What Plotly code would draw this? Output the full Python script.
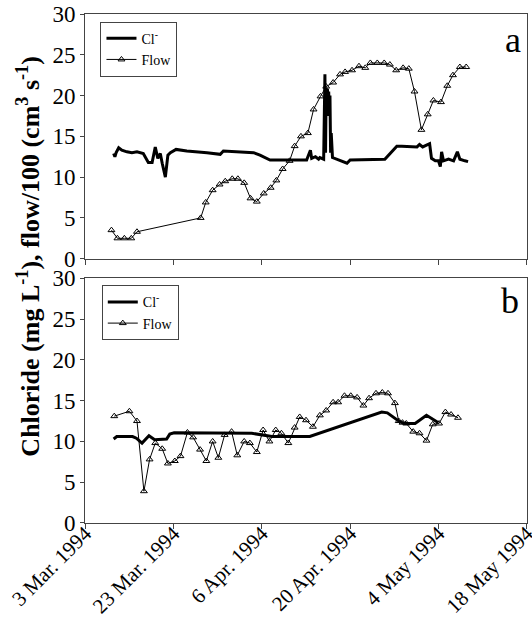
import pandas as pd
import plotly.graph_objects as go
from plotly.subplots import make_subplots

START = pd.Timestamp("1994-03-09")

# ---- Panel a ----
flow_a_day = [4.15, 5.1, 6.2, 7.3, 8.2, 18.3, 19.1, 20.2, 21.3, 22.2, 23.3, 24.2, 25.2, 26.2, 27.2,
              28.3, 29.4, 30.3, 31.3, 32.4, 33.2, 34.2, 35.3, 36.2, 37.3, 38.2, 39.3, 40.4, 41.2,
              42.3, 43.4, 44.4, 45.2, 46.3, 47.4, 48.3, 49.3, 50.4, 51.3, 52.2, 53.3, 54.3, 55.2,
              56.4, 57.4, 58.3, 59.4, 60.4]
flow_a_val = [3.5, 2.5, 2.5, 2.5, 3.3, 5.0, 6.9, 8.4, 9.1, 9.5, 9.8, 9.8, 9.3, 7.4, 7.0,
              8.0, 8.7, 9.6, 11.0, 12.0, 13.8, 15.0, 15.4, 18.3, 19.9, 21.1, 21.6, 22.6, 22.9,
              23.1, 23.6, 23.4, 24.0, 24.0, 24.0, 23.8, 23.1, 23.4, 23.3, 20.5, 15.8, 17.7, 19.4,
              19.2, 21.2, 22.5, 23.5, 23.5]

cl_a_day = [4.5, 4.7, 4.9, 5.3, 5.8, 6.6, 7.4, 8.2, 9.2, 10.0, 10.6, 11.1, 11.5, 11.9, 12.2,
            12.7, 13.1, 13.5, 14.4, 16.1, 19.3, 21.4, 21.9, 24.6, 26.7, 27.7, 29.3, 35.1, 35.7,
            35.9, 36.5, 37.0, 37.2, 37.8, 38.0, 38.1, 38.2, 38.3, 38.4, 38.5, 38.6, 38.7, 38.8,
            38.9, 39.0, 39.2, 39.9, 41.5, 42.0, 47.5, 49.4, 50.2, 52.6, 53.0, 53.5, 54.2, 54.6,
            54.9, 55.5, 56.0, 56.3, 56.5, 56.8, 57.6, 58.4, 59.0, 59.4, 60.2, 60.7]
cl_a_val = [12.9, 12.5, 13.0, 13.6, 13.3, 13.1, 13.0, 13.1, 12.9, 11.8, 11.8, 13.7, 12.3, 12.9, 11.7,
            10.0, 12.7, 13.0, 13.4, 13.2, 13.0, 12.8, 13.2, 13.1, 13.0, 12.7, 12.1, 12.1, 13.3,
            12.3, 12.5, 12.2, 12.4, 12.2, 22.6, 13.0, 21.0, 17.5, 20.8, 17.8, 20.5, 17.5, 20.0,
            13.0, 15.4, 12.4, 12.2, 11.7, 12.1, 12.2, 13.8, 13.8, 13.7, 14.0, 13.7, 13.9, 14.1,
            12.3, 12.0, 12.0, 11.3, 13.1, 12.0, 12.2, 12.0, 13.1, 12.2, 12.0, 11.9]

# ---- Panel b ----
flow_b_day = [4.6, 7.0, 8.2, 9.3, 10.2, 11.1, 12.2, 13.1, 14.2, 15.1, 16.2, 17.1, 18.2, 19.2,
              20.2, 21.1, 22.1, 23.2, 24.1, 25.2, 26.1, 27.2, 28.2, 29.2, 30.2, 31.1, 32.2, 33.2,
              34.0, 35.0, 36.1, 37.2, 38.2, 39.3, 40.1, 41.1, 42.1, 43.1, 44.1, 45.0, 46.1, 47.1,
              48.0, 49.1, 49.7, 50.3, 50.9, 52.0, 53.0, 54.1, 55.1, 56.1, 57.1, 58.0, 59.1]
flow_b_val = [13.1, 13.7, 12.5, 3.9, 7.8, 9.8, 9.1, 7.3, 7.6, 8.2, 11.1, 10.5, 9.0, 7.6,
              10.0, 8.0, 10.8, 11.2, 8.3, 10.0, 9.8, 8.7, 11.4, 10.0, 11.4, 11.0, 9.8, 11.7,
              13.0, 12.6, 11.8, 13.2, 13.8, 14.8, 14.8, 15.6, 15.6, 15.4, 14.4, 15.3, 15.9, 16.0,
              15.9, 14.7, 12.5, 12.3, 12.2, 11.2, 11.0, 10.1, 12.1, 12.2, 13.6, 13.3, 12.9]

cl_b_day = [4.5, 5.0, 7.5, 8.1, 9.0, 10.1, 11.0, 12.9, 13.4, 14.1, 26.4, 29.6, 35.6, 47.0,
            47.9, 48.9, 49.9, 50.7, 52.3, 54.1, 54.9, 56.0]
cl_b_val = [10.3, 10.6, 10.6, 10.4, 9.8, 10.7, 10.2, 10.3, 10.9, 11.05, 11.0, 10.6, 10.6, 13.6,
            13.5, 13.0, 12.4, 12.2, 12.2, 13.2, 12.8, 12.3]

tick_dates = ["1994-03-09", "1994-03-23", "1994-04-06", "1994-04-20", "1994-05-04", "1994-05-18"]
tick_text = ["3 Mar. 1994", "23 Mar. 1994", "6 Apr. 1994", "20 Apr. 1994", "4 May 1994", "18 May 1994"]
y_ticks = [0, 5, 10, 15, 20, 25, 30]
x_range = ["1994-03-08 23:00", "1994-05-18 01:00"]


def to_dates(days):
    return START + pd.to_timedelta(days, unit="D")


FONT = "Liberation Serif"

fig = make_subplots(rows=2, cols=1, shared_xaxes=False, vertical_spacing=0.0385)

for row, (cd, cv, fd, fv, lg) in enumerate(
        [(cl_a_day, cl_a_val, flow_a_day, flow_a_val, "legend"),
         (cl_b_day, cl_b_val, flow_b_day, flow_b_val, "legend2")], start=1):
    fig.add_trace(go.Scatter(x=to_dates(cd), y=cv, mode="lines", name="Cl<sup>-</sup>",
                             line=dict(color="black", width=3), legend=lg), row=row, col=1)
    fig.add_trace(go.Scatter(x=to_dates(fd), y=fv, mode="lines+markers", name="Flow",
                             line=dict(color="black", width=1),
                             marker=dict(symbol="triangle-up-open", size=6, color="black",
                                         line=dict(width=1, color="black")),
                             legend=lg), row=row, col=1)

xcommon = dict(type="date", range=x_range, tickmode="array",
               tickvals=tick_dates, showline=True, mirror=True, linecolor="#444", linewidth=1,
               ticks="outside", ticklen=5, tickcolor="#444", showgrid=False, zeroline=False,
               automargin=False, ticklabeloverflow="allow",
               tickfont=dict(family=FONT, size=21, color="black"))
fig.update_xaxes(**xcommon)
fig.update_xaxes(showticklabels=False, row=1, col=1)
fig.update_xaxes(ticktext=tick_text, tickangle=-45, ticklabelstandoff=-16, row=2, col=1)
fig.update_yaxes(range=[0, 30], tickmode="array", tickvals=y_ticks, showline=True, mirror=True,
                 linecolor="#444", linewidth=1, ticks="outside", ticklen=4, tickcolor="#444",
                 showgrid=False, zeroline=False, automargin=False,
                 tickfont=dict(family=FONT, size=23, color="black"))

leg_style = dict(font=dict(family=FONT, size=14, color="black"), bgcolor="white",
                 bordercolor="#444", borderwidth=1, xanchor="left", yanchor="top",
                 tracegroupgap=0, itemwidth=30)
fig.update_layout(
    width=532, height=624,
    margin=dict(l=85, r=5, t=14, b=101, autoexpand=False),
    paper_bgcolor="white", plot_bgcolor="white",
    font=dict(family=FONT, color="black"),
    showlegend=True,
    legend=dict(x=0.035, y=0.985, **leg_style),
    legend2=dict(x=0.038, y=0.467, **leg_style),
)

fig.add_annotation(text="a", xref="paper", yref="paper", x=1, y=1, xanchor="right", yanchor="top",
                   xshift=-4, yshift=-4, showarrow=False,
                   font=dict(family=FONT, size=36, color="black"))
fig.add_annotation(text="b", xref="paper", yref="paper", x=1, y=0.483, xanchor="right", yanchor="top",
                   xshift=-6, yshift=-2, showarrow=False,
                   font=dict(family=FONT, size=36, color="black"))
fig.add_annotation(text="<b>Chloride (mg L<sup>-1</sup>), flow/100 (cm<sup>3</sup> s<sup>-1</sup>)</b>",
                   xref="paper", yref="paper", x=-0.127, y=0.525, textangle=-90,
                   xanchor="center", yanchor="middle", showarrow=False,
                   font=dict(family=FONT, size=26, color="black"))

fig.write_html("out.html", config={"displayModeBar": False},
               post_script="document.body.style.margin='0';document.body.style.padding='0';")
